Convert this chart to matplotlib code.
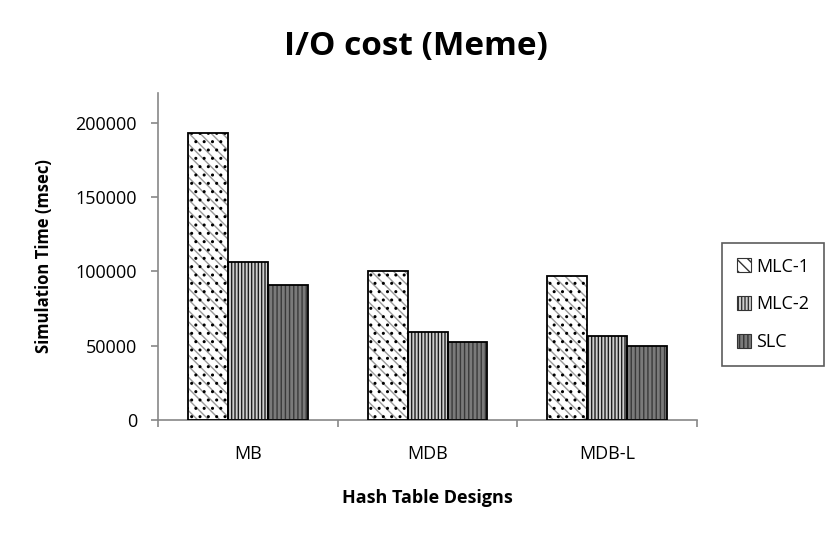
import matplotlib.pyplot as plt
from matplotlib.patches import Patch
import numpy as np

plt.rcParams['font.family'] = ['Open Sans', 'DejaVu Sans']

# data
designs = ['MB', 'MDB', 'MDB-L']
series = ['MLC-1', 'MLC-2', 'SLC']
mlc1 = [193300, 100500, 97200]
mlc2 = [106000, 59500, 56800]
slc = [90500, 52300, 50000]

values = [mlc1, mlc2, slc]
faces = ['white', '#cfcfcf', '#7a7a7a']
hatch_cols = ['#9a9a9a', '#1e1e1e', '#3a3a3a']
hatches = ['\\\\\\', '|||||', '||||']

fig = plt.figure(figsize=(8.31, 5.39), dpi=100)
ax = fig.add_axes([0.190, 0.2208, 0.649, 0.6067])

x = np.arange(len(designs))
w = 0.222
for i, vals in enumerate(values):
    pos = x + (i - 1) * w
    ax.bar(pos, vals, w, color=faces[i], edgecolor=hatch_cols[i],
           hatch=hatches[i], linewidth=0, zorder=2)
    if i == 0:
        # black dashes on the first series
        ax.bar(pos, vals, w, fill=False, edgecolor='black', hatch='..',
               linewidth=0, zorder=3)
    ax.bar(pos, vals, w, fill=False, edgecolor='black', linewidth=1.3, zorder=4)

ax.set_ylim(0, 220000)
ax.set_xlim(-0.5, 2.5)
ax.set_yticks([0, 50000, 100000, 150000, 200000])
ax.set_xticks(x)
ax.set_xticklabels(designs)
ax.set_xticks([-0.5, 0.5, 1.5, 2.5], minor=True)
ax.tick_params(axis='x', which='major', length=0, pad=18, labelsize=13)
ax.tick_params(axis='x', which='minor', length=5, color='#888888', width=1.2)
ax.tick_params(axis='y', length=5, color='#888888', width=1.2, labelsize=13,
               pad=10)

for s in ['top', 'right']:
    ax.spines[s].set_visible(False)
for s in ['left', 'bottom']:
    ax.spines[s].set_color('#888888')
    ax.spines[s].set_linewidth(1.2)

ax.set_ylabel('Simulation Time (msec)', fontsize=12, fontweight='bold',
              labelpad=16)
ax.set_xlabel('Hash Table Designs', fontsize=13, fontweight='bold',
              labelpad=19)
fig.suptitle('I/O cost (Meme)', fontsize=24, fontweight='bold', x=0.5, y=0.945)

handles = [Patch(facecolor=faces[i], edgecolor='#333333', hatch=hatches[i],
                 linewidth=0.8) for i in range(3)]
leg = fig.legend(handles, series, loc='upper left',
                 bbox_to_anchor=(0.869, 0.549), frameon=True, fancybox=False,
                 edgecolor='#333333', fontsize=13, handlelength=0.8,
                 handleheight=0.8, handletextpad=0.3, labelspacing=1.1,
                 borderpad=0.8, borderaxespad=0)
leg.get_frame().set_linewidth(1.2)

fig.savefig('out.png', dpi=100)
